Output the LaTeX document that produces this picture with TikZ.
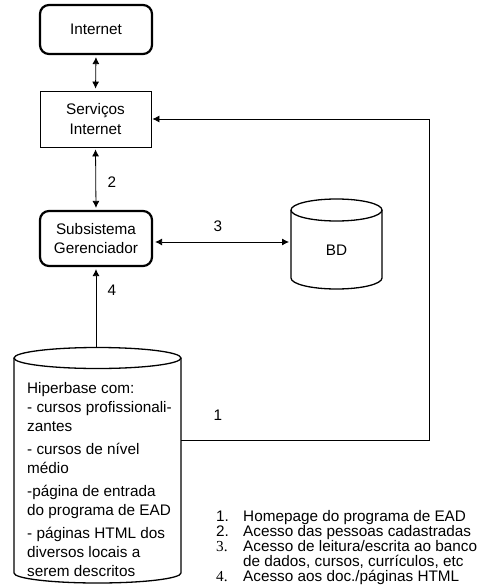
\documentclass[tikz,border=0pt]{standalone}
\usepackage{fontspec}
\setmainfont{Liberation Sans}
\newfontfamily\serifnum{Liberation Serif}
\usetikzlibrary{arrows.meta}
\begin{document}
\begin{tikzpicture}[x=1pt,y=-1pt,
  every node/.style={font=\fontsize{15.3}{19.5}\selectfont, inner sep=0pt},
  rbox/.style={draw, line width=2.2pt, rounded corners=9pt, minimum width=112pt, align=center},
  sbox/.style={draw, line width=0.8pt, minimum width=111pt, align=center},
  tip/.tip={Latex[length=7pt,width=7pt]},
  arr/.style={-tip, line width=0.8pt, shorten >=2pt},
  darr/.style={tip-tip, line width=0.8pt, shorten >=2pt, shorten <=2pt},
  cyl/.style={line width=1.3pt},
  lbl/.style={anchor=center},
  txt/.style={anchor=base west}]
\useasboundingbox (0,0) rectangle (491,586);

% boxes
\node[rbox, minimum height=49pt] (inet) at (96,29.5) {Internet};
\node[sbox, minimum height=56pt] (serv) at (95.5,119) {Serviços\\Internet};
\node[rbox, minimum height=55pt] (sub) at (96,238.5) {Subsistema\\Gerenciador};

% BD cylinder
\draw[cyl, fill=white] (291,210) -- (291,278) arc[start angle=180, end angle=0, x radius=45.5, y radius=11] -- (382,210);
\draw[cyl] (336.5,210) ellipse[x radius=45.5, y radius=11];
\node (bd) at (336.5,250) {BD};
\coordinate (bdleft) at (291,242);

% Hiperbase cylinder
\draw[cyl] (14,358) -- (14,573) arc[start angle=180, end angle=0, x radius=83.5, y radius=10] -- (181,358);
\draw[cyl] (97.5,358) ellipse[x radius=83.5, y radius=10.5];
\coordinate (hbtop) at (96,347.5);
\coordinate (hbright) at (181,440);
\coordinate (cbr) at (429,440);
\coordinate (ctr) at (429,119);

\foreach \t/\y [count=\i] in {Hiperbase com:/393.5, - cursos profissionali-/412.5, zantes/431.5,
  - cursos de nível/454.5, médio/473.5, -página de entrada/496.5, do programa de EAD/515.5,
  - páginas HTML dos/538.5, diversos locais a/557.5, serem descritos/576.5}
  \node[txt] (hb\i) at (27,\y) {\t};

% connectors
\draw[darr] (inet.south) -- (serv.north);
\draw[darr] (serv.south) -- (sub.north);
\draw[darr] (bdleft -| sub.east) -- (bdleft);
\draw[arr] (hbtop) -- (sub.south);
\draw[arr, shorten >=1pt] (hbright) -- (cbr) -- (ctr) -- (serv.east);

% labels
\node[lbl] (l2) at (112,182) {2};
\node[lbl] (l3) at (218,226) {3};
\node[lbl] (l4) at (112,290) {4};
\node[lbl] (l1) at (218,415) {1};

% legend
\node[txt] (n1) at (216,521.5) {1.};
\node[txt] (n2) at (216,536.5) {2.};
\node[txt] (n3) at (216,551.5) {\serifnum 3.};
\node[txt] (n4) at (216,581.5) {\serifnum 4.};
\node[txt] (t1) at (243,521.5) {Homepage do programa de EAD};
\node[txt] (t2) at (243,536.5) {Acesso das pessoas cadastradas};
\node[txt] (t3) at (243,551.5) {Acesso de leitura/escrita ao banco};
\node[txt] (t3b) at (243,566.5) {de dados, cursos, currículos, etc};
\node[txt] (t4) at (243,581.5) {Acesso aos doc./páginas HTML};
\end{tikzpicture}
\end{document}
